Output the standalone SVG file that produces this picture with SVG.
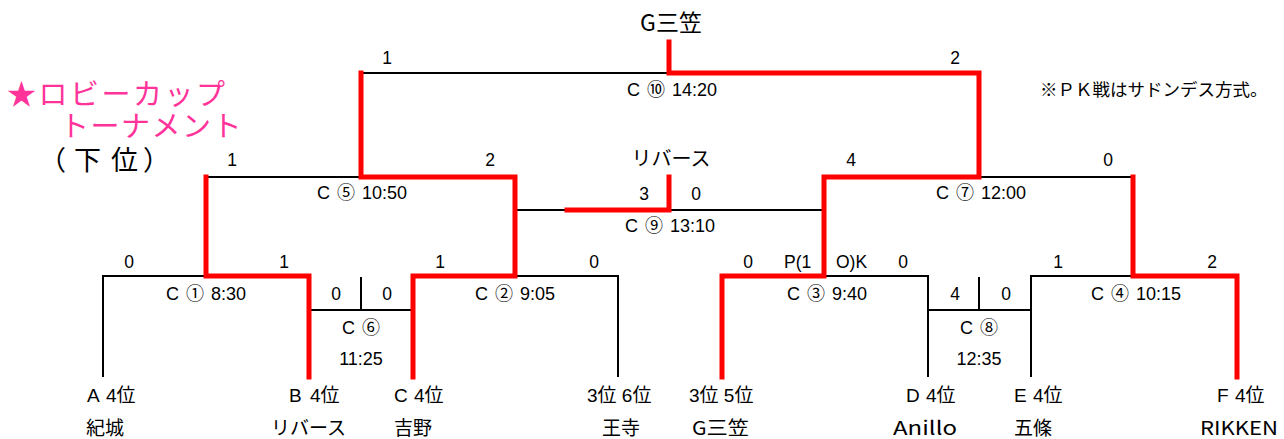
<svg xmlns="http://www.w3.org/2000/svg" width="1284" height="439" viewBox="0 0 1284 439">
<style>
.bk{fill:none;stroke:#000;stroke-width:2}
.rd{fill:none;stroke:#f00;stroke-width:5;stroke-linejoin:miter;stroke-linecap:square}
text{font-family:"Liberation Sans","Noto Sans CJK JP",sans-serif;font-size:17.5px;fill:#000}
.jp{font-family:"Noto Sans CJK JP",sans-serif}
.m{text-anchor:middle}
.c{font-size:18px;word-spacing:2px}
.t{font-size:19px}
.nm{font-family:"Noto Sans CJK JP",sans-serif;font-size:19px}
.pk{font-family:"Noto Sans CJK JP",sans-serif;font-size:29px;fill:#ff3399}
.ka{font-family:"Noto Sans CJK JP",sans-serif;font-size:27px}
</style>
<rect width="1284" height="439" fill="#fff"/>
<g id="connectors">
<path class="bk" d="M103,377V276H206M515,276H618V377M309,310H413M361,277V310M206,177H361M361,73H669M515,210H824M824,276H928V377M928,310H1031M979,277V310M1031,377V276H1133M979,177H1133"/>
<path class="rd" d="M309,377V276H206V177"/>
<path class="rd" d="M413,377V276H515V177H361V73"/>
<path class="rd" d="M567,210H669V177"/>
<path class="rd" d="M722,377V276H824V177H979V73H669V42"/>
<path class="rd" d="M1237,377V276H1133V177"/>
</g>
<g id="title">
<text class="pk" x="7" y="105" style="letter-spacing:2.5px">★ロビーカップ</text>
<text class="pk" x="60" y="137" style="letter-spacing:1.5px">トーナメント</text>
<text class="ka" x="39" y="170">（</text>
<text class="ka" x="74" y="170">下</text>
<text class="ka" x="111" y="170">位</text>
<text class="ka" x="143" y="170">）</text>
<text class="jp" x="1040" y="96" style="font-size:17.5px">※ＰＫ戦はサドンデス方式。</text>
</g>
<g id="final">
<text class="jp m" x="671" y="31" style="font-size:23px">G三笠</text>
<text class="m" x="387" y="64">1</text>
<text class="m" x="955" y="64">2</text>
<text class="m c" x="672" y="96">C ⑩ 14:20</text>
</g>
<g id="semi-left">
<text class="m" x="232" y="166">1</text>
<text class="m" x="490" y="166">2</text>
<text class="m c" x="362" y="199">C ⑤ 10:50</text>
</g>
<g id="third">
<text class="jp m" x="671" y="166" style="font-size:20px">リバース</text>
<text class="m" x="644" y="200">3</text>
<text class="m" x="696" y="200">0</text>
<text class="m c" x="670" y="232">C ⑨ 13:10</text>
</g>
<g id="semi-right">
<text class="m" x="851" y="166">4</text>
<text class="m" x="1108" y="166">0</text>
<text class="m c" x="981" y="199">C ⑦ 12:00</text>
</g>
<g id="m1">
<text class="m" x="129" y="268">0</text>
<text class="m" x="284" y="268">1</text>
<text class="m c" x="206" y="300">C ① 8:30</text>
</g>
<g id="m2">
<text class="m" x="440" y="268">1</text>
<text class="m" x="594" y="268">0</text>
<text class="m c" x="515" y="300">C ② 9:05</text>
</g>
<g id="m6">
<text class="m" x="336" y="300">0</text>
<text class="m" x="387" y="300">0</text>
<text class="m c" x="361" y="334">C ⑥</text>
<text class="m c" x="361" y="365">11:25</text>
</g>
<g id="m3">
<text class="m" x="748" y="268">0</text>
<text x="784" y="268">P(1</text>
<text x="836" y="268">O)K</text>
<text class="m" x="903" y="268">0</text>
<text class="m c" x="827" y="300">C ③ 9:40</text>
</g>
<g id="m8">
<text class="m" x="955" y="300">4</text>
<text class="m" x="1006" y="300">0</text>
<text class="m c" x="979" y="334">C ⑧</text>
<text class="m c" x="979" y="365">12:35</text>
</g>
<g id="m4">
<text class="m" x="1058" y="268">1</text>
<text class="m" x="1212" y="268">2</text>
<text class="m c" x="1136" y="300">C ④ 10:15</text>
</g>
<g id="teams">
<text class="t" x="87" y="402">A</text><text class="t" x="106" y="402">4位</text>
<text class="t" x="289" y="402">B</text><text class="t" x="310" y="402">4位</text>
<text class="t" x="394" y="402">C</text><text class="t" x="414" y="402">4位</text>
<text class="t" x="587" y="402">3位 6位</text>
<text class="t" x="689" y="402">3位 5位</text>
<text class="t" x="906" y="402">D</text><text class="t" x="926" y="402">4位</text>
<text class="t" x="1014" y="402">E</text><text class="t" x="1033" y="402">4位</text>
<text class="t" x="1217" y="402">F</text><text class="t" x="1235" y="402">4位</text>
<text class="nm" x="86" y="435">紀城</text>
<text class="nm" x="271" y="435">リバース</text>
<text class="nm" x="394" y="435">吉野</text>
<text class="nm" x="602" y="435">王寺</text>
<text class="nm" x="692" y="435" textLength="57" lengthAdjust="spacingAndGlyphs">G三笠</text>
<text class="nm" x="893" y="435" textLength="64" lengthAdjust="spacingAndGlyphs">Anillo</text>
<text class="nm" x="1014" y="435">五條</text>
<text class="nm" x="1200" y="435" textLength="78" lengthAdjust="spacingAndGlyphs">RIKKEN</text>
</g>
</svg>
